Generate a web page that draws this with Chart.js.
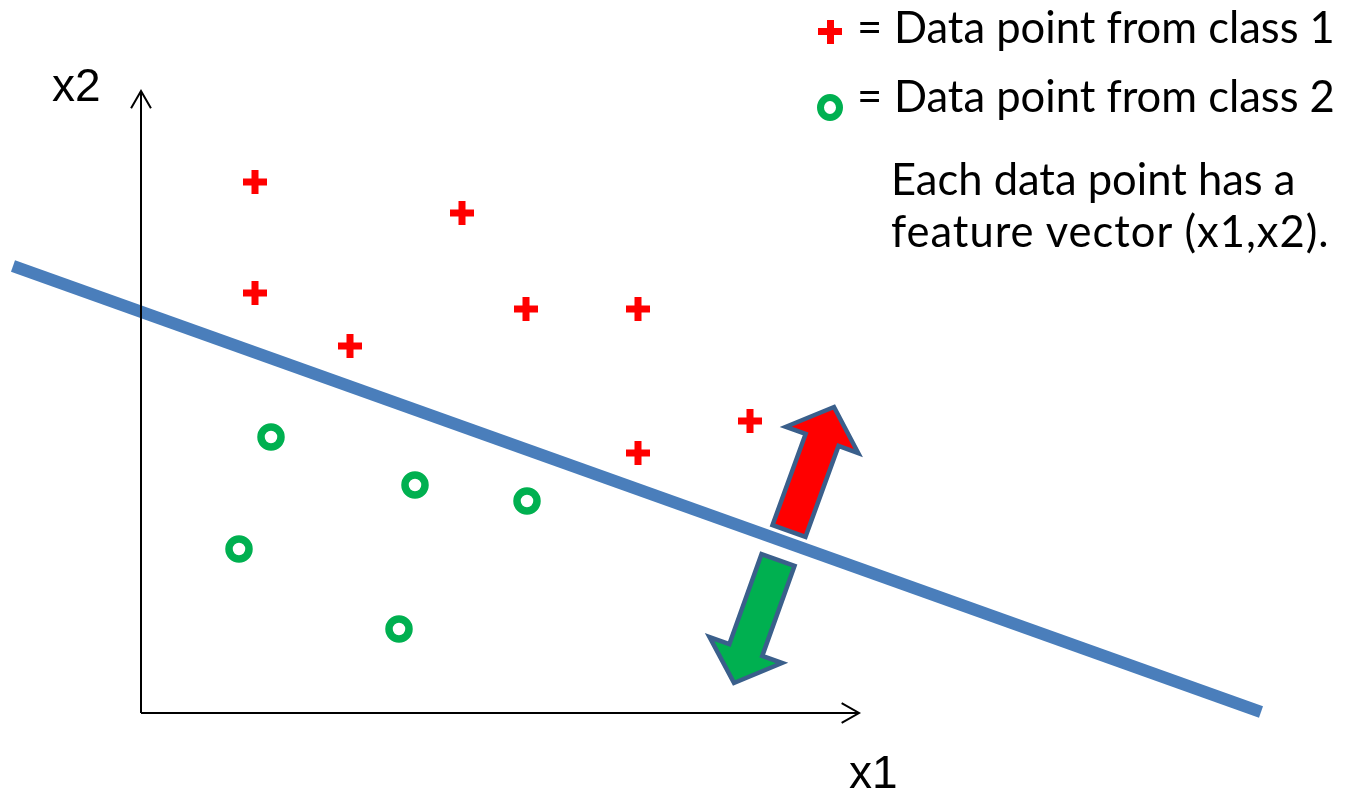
<!DOCTYPE html>
<html>
<head>
<meta charset="utf-8">
<title>Linear classifier</title>
<script src="https://cdn.jsdelivr.net/npm/chart.js@4.4.1/dist/chart.umd.min.js"></script>
<style>
    html, body { margin: 0; padding: 0; background: #fff; }
    #wrap { position: relative; width: 1356px; height: 789px; overflow: hidden; }
    #plot { position: absolute; left: 0; top: 0; }
    .txt { position: absolute; white-space: nowrap; color: #000; line-height: 1; }
    .note { font-family: Lato, "Open Sans", sans-serif; font-size: 43.5px; }
    .axis { font-family: "Liberation Sans", Arial, sans-serif; font-size: 46px; }
    .plus { position: absolute; width: 24px; height: 24px; }
    .plus:before, .plus:after { content: ""; position: absolute; background: #ff0000; }
    .plus:before { left: 0; top: 8.5px; width: 24px; height: 7px; }
    .plus:after { left: 8.5px; top: 0; width: 7px; height: 24px; }
    .ring { position: absolute; width: 12px; height: 13px; border: 7.5px solid #00b050; border-radius: 50%; }
</style>
</head>
<body>
<div id="wrap">
    <canvas id="plot" width="1356" height="789"></canvas>

    <div class="txt axis" style="left:52px; top:62px;">x2</div>
    <div class="txt axis" style="left:849px; top:749px;">x1</div>

    <div class="plus" style="left:818px; top:19.5px;"></div>
    <div class="txt note" style="left:857px; top:4.5px;">=</div>
    <div class="txt note" style="left:894px; top:4.5px;">Data point from class 1</div>

    <div class="ring" style="left:817px; top:94px;"></div>
    <div class="txt note" style="left:857px; top:73.5px;">=</div>
    <div class="txt note" style="left:894px; top:73.5px;">Data point from class 2</div>

    <div class="txt note" style="left:891px; top:156.5px;">Each data point has a</div>
    <div class="txt note" style="left:891px; top:208.5px; letter-spacing:1px;">feature vector (x1,x2).</div>
</div>

<script>
// feature space (x1, x2), axis origin at 0,0
const classOneX = [11.4, 32.1, 11.4, 38.5, 49.7, 20.9, 60.9, 49.7];
const classOneY = [53.1, 50.0, 42.0, 40.4, 40.4, 36.7, 29.2, 26.0];

const classTwoX = [13.0, 27.4, 38.6, 9.8, 25.8];
const classTwoY = [27.6, 22.8, 21.2, 16.4, 8.4];

// separating line
const boundaryX = [-12.8, 112.0];
const boundaryY = [44.7, 0.1];

// axis ends
const x1AxisEnd = 71.8;
const x2AxisEnd = 62.2;

// the two block arrows (base -> tip)
const arrowBaseX = [64.8, 63.7];
const arrowBaseY = [18.2, 15.3];
const arrowTipX = [69.3, 59.3];
const arrowTipY = [30.6, 3.0];
const arrowFills = ['#ff0000', '#00b050'];

const toPoints = (xs, ys) => xs.map((x, i) => ({ x: x, y: ys[i] }));

// open chevrons on the ends of the axes
const axisHeads = {
    id: 'axisHeads',
    afterDatasetsDraw(chart) {
        const ctx = chart.ctx;
        chart.data.datasets.forEach((ds, i) => {
            if (!ds.arrowHead) return;
            const pts = chart.getDatasetMeta(i).data;
            const a = pts[pts.length - 2], b = pts[pts.length - 1];
            const ang = Math.atan2(b.y - a.y, b.x - a.x);
            const len = 20, spread = 0.52;
            ctx.save();
            ctx.strokeStyle = '#000';
            ctx.lineWidth = 2;
            ctx.beginPath();
            ctx.moveTo(b.x - len * Math.cos(ang - spread), b.y - len * Math.sin(ang - spread));
            ctx.lineTo(b.x, b.y);
            ctx.lineTo(b.x - len * Math.cos(ang + spread), b.y - len * Math.sin(ang + spread));
            ctx.stroke();
            ctx.restore();
        });
    }
};

// red / green block arrows, placed through the scales
const blockArrows = {
    id: 'blockArrows',
    afterDatasetsDraw(chart) {
        const ctx = chart.ctx;
        const xs = chart.scales.x, ys = chart.scales.y;
        arrowFills.forEach((fill, i) => {
            const bx = xs.getPixelForValue(arrowBaseX[i]);
            const by = ys.getPixelForValue(arrowBaseY[i]);
            const tx = xs.getPixelForValue(arrowTipX[i]);
            const ty = ys.getPixelForValue(arrowTipY[i]);
            const len = Math.hypot(tx - bx, ty - by);
            const sw = 17.5, hw = 38.5, hl = 35;
            ctx.save();
            ctx.translate(bx, by);
            ctx.rotate(Math.atan2(ty - by, tx - bx));
            ctx.beginPath();
            ctx.moveTo(0, -sw);
            ctx.lineTo(len - hl, -sw);
            ctx.lineTo(len - hl, -hw);
            ctx.lineTo(len, 0);
            ctx.lineTo(len - hl, hw);
            ctx.lineTo(len - hl, sw);
            ctx.lineTo(0, sw);
            ctx.closePath();
            ctx.fillStyle = fill;
            ctx.fill();
            ctx.lineJoin = 'miter';
            ctx.lineWidth = 4.5;
            ctx.strokeStyle = '#3a5f8b';
            ctx.stroke();
            ctx.restore();
        });
    }
};

new Chart(document.getElementById('plot'), {
    type: 'scatter',
    data: {
        datasets: [
            {
                label: 'x2 axis',
                data: [{ x: 0, y: 0 }, { x: 0, y: x2AxisEnd }],
                showLine: true,
                borderColor: '#000',
                borderWidth: 2,
                pointRadius: 0,
                arrowHead: true,
                order: 0
            },
            {
                label: 'x1 axis',
                data: [{ x: 0, y: 0 }, { x: x1AxisEnd, y: 0 }],
                showLine: true,
                borderColor: '#000',
                borderWidth: 2,
                pointRadius: 0,
                arrowHead: true,
                order: 0
            },
            {
                label: 'class 1',
                data: toPoints(classOneX, classOneY),
                pointStyle: 'cross',
                pointRadius: 12,
                pointBorderWidth: 7,
                borderWidth: 7,
                borderColor: '#ff0000',
                pointBorderColor: '#ff0000',
                order: 1
            },
            {
                label: 'class 2',
                data: toPoints(classTwoX, classTwoY),
                pointStyle: 'circle',
                pointRadius: 10,
                pointBorderWidth: 7.5,
                borderWidth: 7.5,
                borderColor: '#00b050',
                pointBorderColor: '#00b050',
                pointBackgroundColor: 'rgba(0,0,0,0)',
                order: 1
            },
            {
                label: 'decision boundary',
                data: toPoints(boundaryX, boundaryY),
                showLine: true,
                borderColor: '#4a7ebb',
                borderWidth: 12,
                borderCapStyle: 'butt',
                pointRadius: 0,
                order: 2
            }
        ]
    },
    options: {
        responsive: false,
        animation: false,
        devicePixelRatio: 1,
        layout: { padding: 0, autoPadding: false },
        scales: {
            x: { type: 'linear', min: -14.1, max: 121.5, display: false },
            y: { type: 'linear', min: -7.6, max: 71.3, display: false }
        },
        plugins: {
            legend: { display: false },
            tooltip: { enabled: false }
        }
    },
    plugins: [axisHeads, blockArrows]
});
</script>
</body>
</html>
